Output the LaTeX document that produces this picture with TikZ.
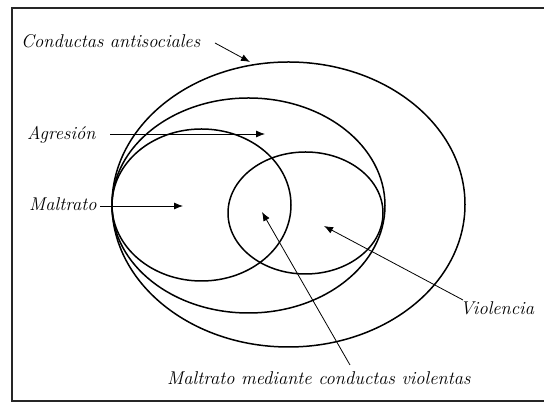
\documentclass[tikz,border=0pt]{standalone}
\usetikzlibrary{arrows.meta}
\begin{document}
\begin{tikzpicture}[x=1pt,y=1pt,
  setline/.style={line width=1.5pt},
  arr/.style={line width=0.8pt,-{Latex[length=9pt,width=7pt]}},
  lbl/.style={inner sep=0pt,font=\fontsize{18.5}{22}\selectfont\itshape}]
\clip (0,0) rectangle (544,403);
\useasboundingbox (0,0) rectangle (544,403);
\draw[line width=1.6pt,black!85] (12,2) rectangle (560,395);
% sets
\draw[setline] (288.5,198.5) ellipse [x radius=176.5, y radius=142.5];
\draw[setline] (248.5,197.5) ellipse [x radius=136.5, y radius=107.5];
\draw[setline] (201.5,198) ellipse [x radius=89.5, y radius=76];
\draw[setline] (305.5,190) ellipse [x radius=77.5, y radius=61];
% labels
\node[lbl,anchor=base west] (cond) at (21,355) {Conductas antisociales};
\node[lbl,anchor=base west] (agr) at (27,263) {Agresión};
\node[lbl,anchor=base west] (mal) at (29,192) {Maltrato};
\node[lbl,anchor=base west] (vio) at (460,88) {Violencia};
\node[lbl,anchor=base west] (med) at (167,18) {Maltrato mediante conductas violentas};
% arrow tips
\coordinate (tcond) at (250,341);
\coordinate (tagr) at (265,269);
\coordinate (tmal) at (183,197);
\coordinate (tvio) at (324,177);
\coordinate (tmed) at (262,191);
\coordinate (scond) at (215,360);
\coordinate (sagr) at (110,269);
\coordinate (smal) at (100,197);
\coordinate (svio) at (463,103);
\coordinate (smed) at (350,38);
\draw[arr] (scond) -- (tcond);
\draw[arr] (sagr) -- (tagr);
\draw[arr] (smal) -- (tmal);
\draw[arr] (svio) -- (tvio);
\draw[arr] (smed) -- (tmed);
\end{tikzpicture}
\end{document}
